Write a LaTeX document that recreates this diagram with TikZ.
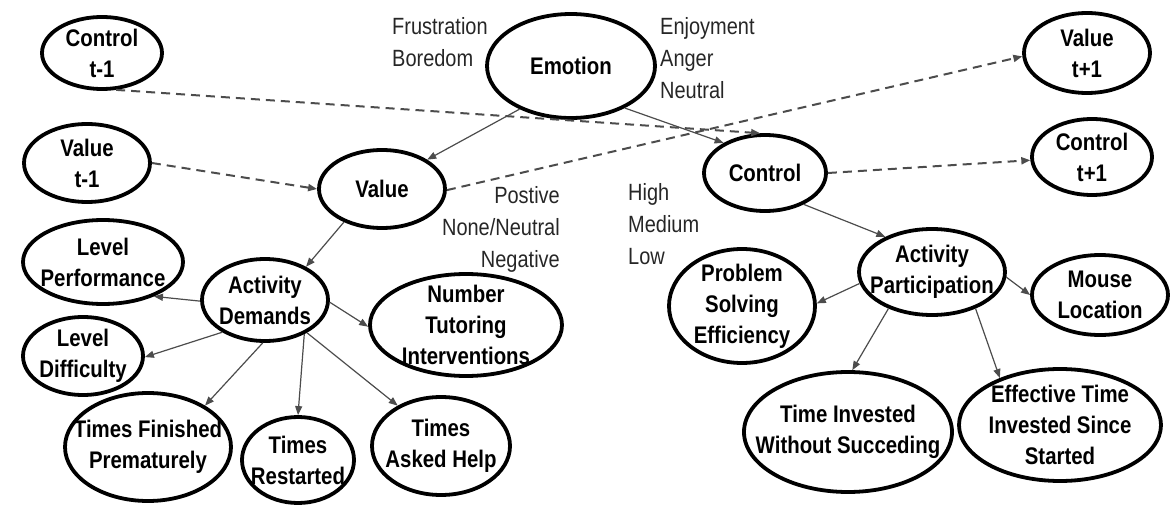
\documentclass[tikz,border=0pt]{standalone}
\usepackage{fontspec}
\setmainfont{Liberation Sans}[FakeStretch=0.85]
\usetikzlibrary{shapes.geometric,arrows.meta}

\begin{document}
\begin{tikzpicture}[x=1pt, y=-1pt,
  var/.style={ellipse, draw, line width=3.8pt, inner sep=0pt, label={[varlbl]center:#1}},
  varlbl/.style={align=center, font=\bfseries\fontsize{24}{31}\selectfont},
  tag/.style={inner sep=0pt, text=black!85, font=\fontsize{23.5}{32}\selectfont},
  link/.style={-{Triangle[length=9pt,width=7pt]}, line width=1.2pt, draw=black!70},
  lag/.style={link, dash pattern=on 9pt off 6pt, line width=2pt}]

\useasboundingbox (0,0) rectangle (1173,505);

\node[var={Control\\t-1}, minimum width=120pt, minimum height=72pt] (ctlprev) at (102, 53) {};
\node[var={Value\\t-1}, minimum width=126pt, minimum height=78pt] (valprev) at (87, 163) {};
\node[var={Emotion}, minimum width=168pt, minimum height=104pt] (emotion) at (571, 66) {};
\node[var={Value}, minimum width=126pt, minimum height=78pt] (value) at (382, 189) {};
\node[var={Control}, minimum width=122pt, minimum height=76pt] (control) at (765, 173) {};
\node[var={Value\\t+1}, minimum width=126pt, minimum height=80pt] (valnext) at (1087, 53) {};
\node[var={Control\\t+1}, minimum width=120pt, minimum height=76pt] (ctlnext) at (1092, 157) {};

\node[var={Activity\\Demands}, minimum width=126pt, minimum height=82pt] (demands) at (265, 300) {};
\node[var={Level\\Performance}, minimum width=160pt, minimum height=84pt] (levperf) at (103, 262) {};
\node[var={Level\\Difficulty}, minimum width=120pt, minimum height=78pt] (levdiff) at (83, 356) {};
\node[var={Number\\Tutoring\\Interventions}, minimum width=192pt, minimum height=102pt] (tutoring) at (466, 325) {};
\node[var={Times Finished\\Prematurely}, minimum width=166pt, minimum height=108pt] (finished) at (148, 447) {};
\node[var={Times\\Restarted}, minimum width=112pt, minimum height=86pt] (restarted) at (298, 460) {};
\node[var={Times\\Asked Help}, minimum width=138pt, minimum height=98pt] (askhelp) at (441, 446) {};

\node[var={Activity\\Participation}, minimum width=146pt, minimum height=86pt] (particip) at (932, 272) {};
\node[var={Problem\\Solving\\Efficiency}, minimum width=146pt, minimum height=114pt] (efficiency) at (742, 306) {};
\node[var={Mouse\\Location}, minimum width=136pt, minimum height=80pt] (mouse) at (1100, 295) {};
\node[var={Time Invested\\Without Succeding}, minimum width=208pt, minimum height=120pt] (invested) at (848, 432) {};
\node[var={Effective Time\\Invested Since\\Started}, minimum width=202pt, minimum height=112pt] (effective) at (1060, 425) {};

\node[tag, align=left, anchor=north west] (negemo) at (392, 17) {Frustration\\Boredom};
\node[tag, align=left, anchor=north west] (posemo) at (660, 17) {Enjoyment\\Anger\\Neutral};
\node[tag, align=right, anchor=north east] (valence) at (560, 186) {Postive\\None/Neutral\\Negative};
\node[tag, align=left, anchor=north west] (degree) at (628, 183) {High\\Medium\\Low};

\draw[lag] (ctlprev.291) -- (control.97);
\draw[lag] (valprev.0) -- (value.180);
\draw[lag] (value.-1) -- (valnext.183.5);
\draw[lag] (control.0) -- (ctlnext.183);

\draw[link] (emotion.220) -- (value.33);
\draw[link] (emotion.322) -- (control.144.5);
\draw[link] (value.221) -- (demands.39);
\draw[link] (control.321) -- (particip.143);

\draw[link] (demands.181) -- (levperf.326);
\draw[link] (demands.217) -- (levdiff.359);
\draw[link] (demands.358) -- (tutoring.181);
\draw[link] (demands.267) -- (finished.36);
\draw[link] (demands.319) -- (restarted.90);
\draw[link] (demands.322) -- (askhelp.137);

\draw[link] (particip.189) -- (efficiency.2);
\draw[link] (particip.356) -- (mouse.180);
\draw[link] (particip.220) -- (invested.86);
\draw[link] (particip.320) -- (effective.142);

\end{tikzpicture}
\end{document}
